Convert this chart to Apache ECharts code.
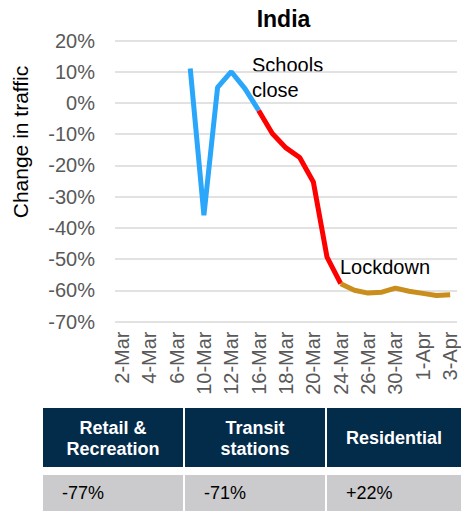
<!DOCTYPE html>
<html>
<head>
<meta charset="utf-8">
<script src="https://cdn.jsdelivr.net/npm/echarts@6/dist/echarts.min.js"></script>
<style>
html,body{margin:0;padding:0;background:#fff;}
#chart{width:461px;height:511px;}
</style>
</head>
<body>
<div id="chart"></div>
<script>
// Weekday dates on the category axis
const categories = ['2-Mar','3-Mar','4-Mar','5-Mar','6-Mar','9-Mar','10-Mar','11-Mar','12-Mar','13-Mar',
  '16-Mar','17-Mar','18-Mar','19-Mar','20-Mar','23-Mar','24-Mar','25-Mar','26-Mar','27-Mar',
  '30-Mar','31-Mar','1-Apr','2-Apr','3-Apr'];
// Change in traffic (%), by phase
const beforeSchoolsStart = '9-Mar';
const beforeSchools = [11, -36, 5, 10, 4.6, -2.4];
const schoolsClosedStart = '16-Mar';
const schoolsClosed = [-2.4, -9.8, -14.4, -17.5, -25.3, -49.4, -57.9];
const lockdownStart = '24-Mar';
const lockdown = [-57.9, -60, -60.9, -60.6, -59.3, -60.3, -61, -61.7, -61.4];
// Y axis ticks
const yMin = -70, yMax = 20, yStep = 10;
// Table
const tableHeaders = ['Retail &\nRecreation', 'Transit\nstations', 'Residential'];
const tableValues = ['-77%', '-71%', '+22%'];
const chartTitle = 'India';
const yAxisTitle = 'Change in traffic';
const notes = ['Schools\nclose', 'Lockdown'];

function pad(start, vals) {
  const i0 = categories.indexOf(start);
  return categories.map((c, i) => (i >= i0 && i < i0 + vals.length) ? vals[i - i0] : null);
}

const FONT = '"Liberation Sans", Arial, sans-serif';
const chart = echarts.init(document.getElementById('chart'), null, {renderer: 'svg'});

const colX = [43, 185, 327];
const colW = [140, 140, 134];
const graphic = [];
tableHeaders.forEach((h, i) => {
  graphic.push({type: 'rect', shape: {x: colX[i], y: 408, width: colW[i], height: 59}, style: {fill: '#032b4a'}});
  graphic.push({type: 'text', x: colX[i] + colW[i] / 2, y: 438,
    style: {text: h, fill: '#ffffff', font: 'bold 18px ' + FONT, textAlign: 'center', textVerticalAlign: 'middle', lineHeight: 21}});
  graphic.push({type: 'rect', shape: {x: colX[i], y: 475, width: colW[i], height: 36}, style: {fill: '#cbcbcd'}});
  graphic.push({type: 'text', x: colX[i] + 19, y: 493,
    style: {text: tableValues[i], fill: '#000000', font: '18px ' + FONT, textAlign: 'left', textVerticalAlign: 'middle'}});
});
graphic.push({type: 'text', x: 283.5, y: 19,
  style: {text: chartTitle, fill: '#000', font: 'bold 23px ' + FONT, textAlign: 'center', textVerticalAlign: 'middle'}});
graphic.push({type: 'text', x: 20, y: 142, rotation: Math.PI / 2,
  style: {text: yAxisTitle, fill: '#000', font: '21px ' + FONT, textAlign: 'center', textVerticalAlign: 'middle'}});
graphic.push({type: 'text', x: 252, y: 77,
  style: {text: notes[0], fill: '#000', font: '20px ' + FONT, textAlign: 'left', textVerticalAlign: 'middle', lineHeight: 25}});
graphic.push({type: 'text', x: 340, y: 267,
  style: {text: notes[1], fill: '#000', font: '20px ' + FONT, textAlign: 'left', textVerticalAlign: 'middle'}});

const lineSeries = (data, color) => ({
  type: 'line', data: data, symbol: 'none', connectNulls: false, animation: false,
  lineStyle: {color: color, width: 5}, itemStyle: {color: color}
});

chart.setOption({
  animation: false,
  grid: {left: 115, right: 4, top: 40.5, bottom: 189.5, containLabel: false},
  xAxis: {
    type: 'category', data: categories, boundaryGap: true,
    axisLine: {show: false}, axisTick: {show: false},
    axisLabel: {interval: 1, rotate: 90, margin: 10, color: '#595959', fontSize: 20, fontFamily: FONT}
  },
  yAxis: {
    type: 'value', min: yMin, max: yMax, interval: yStep,
    axisLine: {show: false}, axisTick: {show: false},
    axisLabel: {formatter: '{value}%', margin: 20, color: '#595959', fontSize: 20, fontFamily: FONT},
    splitLine: {lineStyle: {color: '#d9d9d9', width: 1.5}}
  },
  series: [
    lineSeries(pad(beforeSchoolsStart, beforeSchools), '#2aa6fb'),
    lineSeries(pad(schoolsClosedStart, schoolsClosed), '#ff0000'),
    lineSeries(pad(lockdownStart, lockdown), '#c98e1c')
  ],
  graphic: graphic
});
</script>
</body>
</html>
